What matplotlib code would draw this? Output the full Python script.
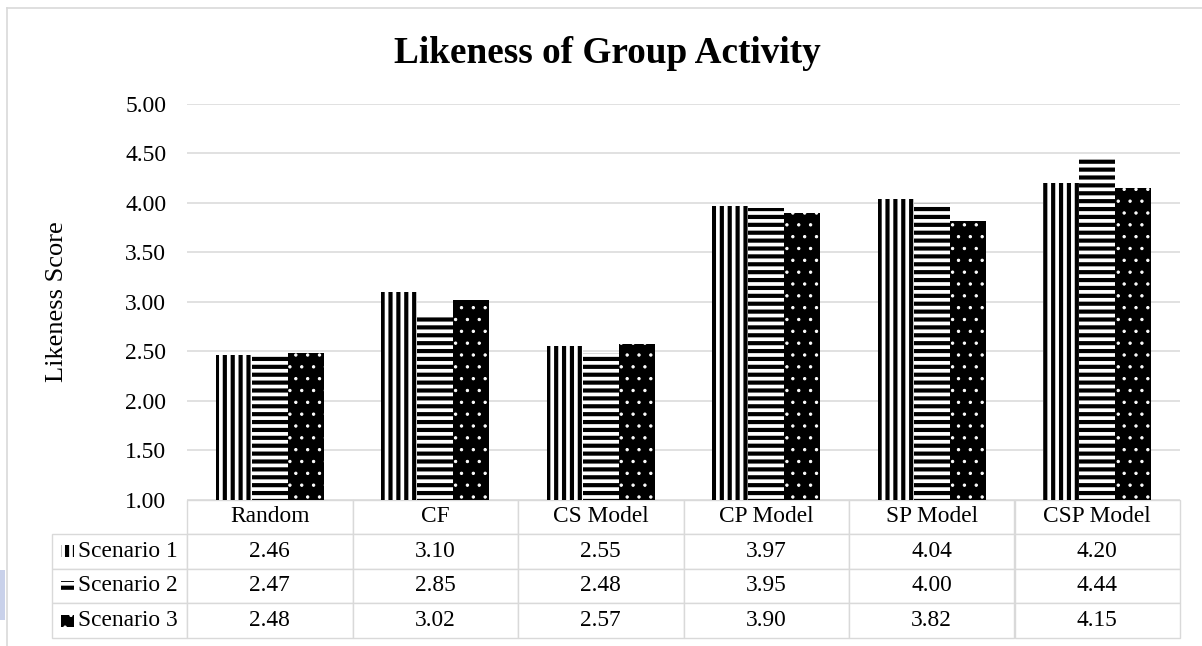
import numpy as np
import matplotlib
matplotlib.use('Agg')
import matplotlib.pyplot as plt
from matplotlib.patches import Rectangle
from matplotlib.lines import Line2D
from matplotlib.table import Table

plt.rcParams['font.family'] = ['Liberation Serif', 'DejaVu Serif']

categories = ['Random', 'CF', 'CS Model', 'CP Model', 'SP Model', 'CSP Model']
series_names = ['Scenario 1', 'Scenario 2', 'Scenario 3']
scenario1 = [2.46, 3.10, 2.55, 3.97, 4.04, 4.20]
scenario2 = [2.47, 2.85, 2.48, 3.95, 4.00, 4.44]
scenario3 = [2.48, 3.02, 2.57, 3.90, 3.82, 4.15]
yticks = [1.00, 1.50, 2.00, 2.50, 3.00, 3.50, 4.00, 4.50, 5.00]

# hatch tiles are one inch wide, so the dpi sets the pattern spacing
DPI = 142
S = 100 / DPI          # sizes below are given for 100 dpi and scaled
W, H = 1203, 646
fig = plt.figure(figsize=(W / DPI, H / DPI), dpi=DPI)

# plot area in pixels: left 187, right 1180, top 104, bottom 500
ax = fig.add_axes([187 / W, 1 - 499.5 / H, 993 / W, 395.7 / H])

# black & white pattern fills, one per scenario
styles = [
    dict(facecolor='white', edgecolor='black', hatch='|||', hlw=3.0),
    dict(facecolor='white', edgecolor='black', hatch='---', hlw=3.0),
    dict(facecolor='black', edgecolor='white', hatch='..', hlw=0.7),
]

x = np.arange(len(categories))
bw = 0.2175
for i, (vals, st) in enumerate(zip([scenario1, scenario2, scenario3], styles)):
    with plt.rc_context({'hatch.linewidth': st['hlw'] * S}):
        bars = ax.bar(x + (i - 1) * bw, vals, bw, facecolor=st['facecolor'],
                      edgecolor=st['edgecolor'], hatch=st['hatch'], linewidth=0,
                      zorder=2)
        for b in bars:
            if hasattr(b, 'set_hatch_linewidth'):
                b.set_hatch_linewidth(st['hlw'] * S)

ax.set_xlim(-0.5, len(categories) - 0.5)
ax.set_ylim(1, 5)
ax.set_yticks(yticks)
ax.set_yticklabels([f'{t:.2f}' for t in yticks])
ax.set_xticks([])
ax.tick_params(axis='y', length=0, pad=15 * S, labelsize=17 * S)
ax.yaxis.grid(True, color='#d9d9d9', linewidth=1.1 * S)
ax.set_axisbelow(True)
for s in ax.spines.values():
    s.set_visible(False)

# data table under the plot; columns 0..5 line up with the categories
lab_w = 135 / 993
tab_h = 138 / 395.7
row_h = tab_h / 4
tbl = Table(ax, bbox=[0, -tab_h, 1, tab_h])
for j, cat in enumerate(categories):
    tbl.add_cell(0, j, width=1 / 6, height=row_h, text=cat, loc='center')
for i, (name, vals) in enumerate(zip(series_names, [scenario1, scenario2, scenario3])):
    c = tbl.add_cell(i + 1, -1, width=lab_w, height=row_h, text=name, loc='left')
    c.PAD = 0.19
    for j, v in enumerate(vals):
        tbl.add_cell(i + 1, j, width=1 / 6, height=row_h, text=f'{v:.2f}', loc='center')
tbl.auto_set_font_size(False)
tbl.set_fontsize(16.8 * S)
for cell in tbl.get_celld().values():
    cell.set_edgecolor('#d9d9d9')
    cell.set_linewidth(1.0 * S)
ax.add_table(tbl)

# legend keys inside the row labels
row_mid = [551, 586.5, 621]
for yc, st in zip(row_mid, styles):
    with plt.rc_context({'hatch.linewidth': st['hlw'] * S}):
        key = Rectangle((61 / W, 1 - (yc + 6) / H), 13 / W, 12 / H,
                        transform=fig.transFigure, facecolor=st['facecolor'],
                        edgecolor=st['edgecolor'], hatch=st['hatch'], linewidth=0)
        if hasattr(key, 'set_hatch_linewidth'):
            key.set_hatch_linewidth(st['hlw'] * S)
    fig.add_artist(key)

fig.text(607 / W, 1 - 63 / H, 'Likeness of Group Activity', fontsize=26.8 * S,
         fontweight='bold', ha='center', va='baseline')
fig.text(57 / W, 1 - 301.6 / H, 'Likeness Score', fontsize=19 * S, rotation=90,
         ha='center', va='center')

# chart frame (left and top edges)
fig.add_artist(Line2D([7.5 / W, 7.5 / W], [0, 1 - 7.5 / H], transform=fig.transFigure,
                      color='#d9d9d9', linewidth=1.2 * S))
fig.add_artist(Line2D([7.5 / W, 1], [1 - 7.5 / H, 1 - 7.5 / H], transform=fig.transFigure,
                      color='#d9d9d9', linewidth=1.2 * S))
fig.add_artist(Rectangle((0, 1 - 620 / H), 5 / W, 50 / H, transform=fig.transFigure,
                         facecolor='#c9d1ea', edgecolor='none'))

fig.savefig('out.png', dpi=DPI)
